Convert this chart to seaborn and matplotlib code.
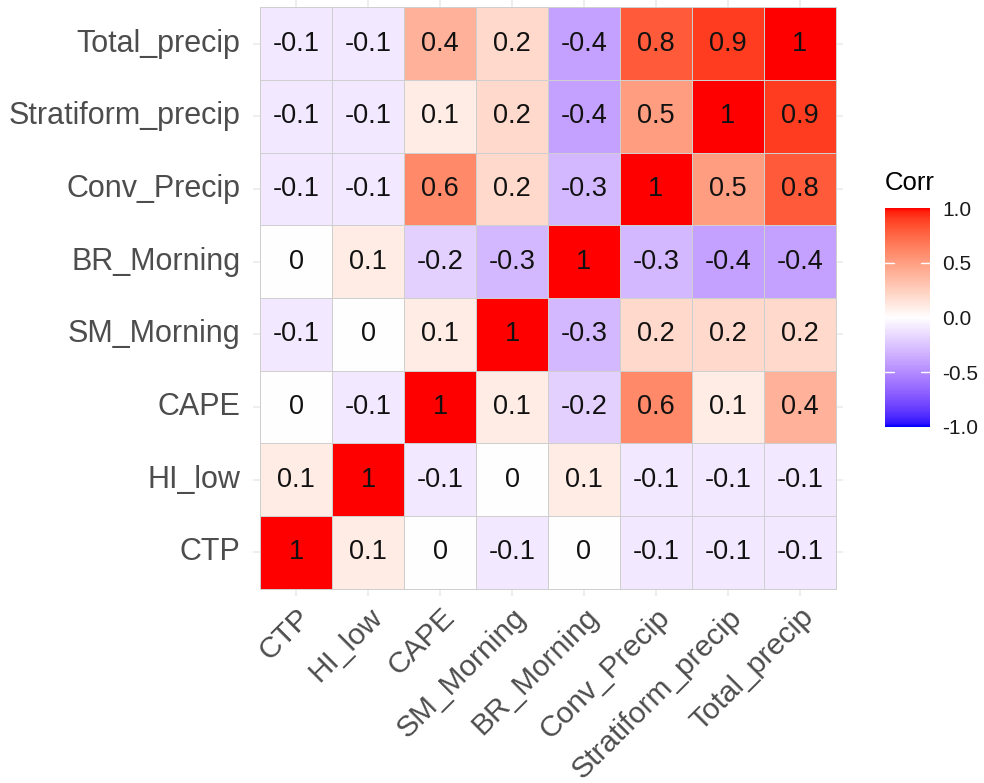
import numpy as np
import pandas as pd
import seaborn as sns
import matplotlib.pyplot as plt
from matplotlib.colors import ListedColormap

sns.set_theme(style='white')
plt.rcParams['font.family'] = ['Liberation Sans', 'DejaVu Sans']

# variables in plotting order (x left->right, y bottom->top)
variables = ['CTP', 'HI_low', 'CAPE', 'SM_Morning', 'BR_Morning',
             'Conv_Precip', 'Stratiform_precip', 'Total_precip']

# rounded correlation matrix, rows/cols in the order above
corr_ctp = [1, 0.1, 0, -0.1, 0, -0.1, -0.1, -0.1]
corr_hi_low = [0.1, 1, -0.1, 0, 0.1, -0.1, -0.1, -0.1]
corr_cape = [0, -0.1, 1, 0.1, -0.2, 0.6, 0.1, 0.4]
corr_sm = [-0.1, 0, 0.1, 1, -0.3, 0.2, 0.2, 0.2]
corr_br = [0, 0.1, -0.2, -0.3, 1, -0.3, -0.4, -0.4]
corr_conv = [-0.1, -0.1, 0.6, 0.2, -0.3, 1, 0.5, 0.8]
corr_strat = [-0.1, -0.1, 0.1, 0.2, -0.4, 0.5, 1, 0.9]
corr_total = [-0.1, -0.1, 0.4, 0.2, -0.4, 0.8, 0.9, 1]

corr = pd.DataFrame([corr_ctp, corr_hi_low, corr_cape, corr_sm, corr_br,
                     corr_conv, corr_strat, corr_total],
                    index=variables, columns=variables)


# ggplot-like gradient2 (blue - white - red), interpolated in Lab space
def srgb_to_lab(rgb):
    c = np.asarray(rgb, dtype=float)
    lin = np.where(c <= 0.04045, c / 12.92, ((c + 0.055) / 1.055) ** 2.4)
    m = np.array([[0.4124, 0.3576, 0.1805],
                  [0.2126, 0.7152, 0.0722],
                  [0.0193, 0.1192, 0.9505]])
    xyz = m @ lin / np.array([0.95047, 1.0, 1.08883])
    f = np.where(xyz > 0.008856, np.cbrt(xyz), 7.787 * xyz + 16 / 116)
    return np.array([116 * f[1] - 16, 500 * (f[0] - f[1]), 200 * (f[1] - f[2])])


def lab_to_srgb(lab):
    L, a, b = lab
    fy = (L + 16) / 116
    fx = fy + a / 500
    fz = fy - b / 200
    f = np.array([fx, fy, fz])
    xyz = np.where(f ** 3 > 0.008856, f ** 3, (f - 16 / 116) / 7.787)
    xyz = xyz * np.array([0.95047, 1.0, 1.08883])
    minv = np.array([[3.2406, -1.5372, -0.4986],
                     [-0.9689, 1.8758, 0.0415],
                     [0.0557, -0.2040, 1.0570]])
    lin = np.clip(minv @ xyz, 0, 1)
    c = np.where(lin <= 0.0031308, 12.92 * lin, 1.055 * lin ** (1 / 2.4) - 0.055)
    return np.clip(c, 0, 1)


blue_lab = srgb_to_lab([0, 0, 1])
white_lab = srgb_to_lab([1, 1, 1])
red_lab = srgb_to_lab([1, 0, 0])
colors = []
for v in np.linspace(-1, 1, 256):
    if v < 0:
        lab = white_lab + (blue_lab - white_lab) * (-v)
    else:
        lab = white_lab + (red_lab - white_lab) * v
    colors.append(lab_to_srgb(lab))
cmap = ListedColormap(colors)

# top row first for the heatmap
plot_df = corr.iloc[::-1]
labels = plot_df.map(lambda v: '{:g}'.format(v))

fig = plt.figure(figsize=(9.84, 7.83), dpi=100)
ax = fig.add_axes([253 / 984, 1 - 596 / 783, 590 / 984, 596 / 783])
cax = fig.add_axes([885 / 984, 1 - 427 / 783, 45 / 984, 219 / 783])

sns.heatmap(plot_df, ax=ax, cbar_ax=cax, cmap=cmap, vmin=-1, vmax=1,
            annot=labels, fmt='', annot_kws={'size': 19.5, 'color': '#111111'},
            linewidths=0.7, linecolor='#cfcfcf', square=False)

ax.set_xlim(-0.1, 8.1)
ax.set_ylim(8.1, -0.1)
ax.set_axisbelow(True)
ax.grid(True, color='#ebebeb', linewidth=1.2)
for s in ax.spines.values():
    s.set_visible(False)
ax.set_xlabel('')
ax.set_ylabel('')
ax.tick_params(axis='both', length=0, colors='#4d4d4d')
ax.tick_params(axis='y', pad=9)
ax.tick_params(axis='x', pad=5)
ax.set_yticklabels(plot_df.index, rotation=0, fontsize=22, color='#4d4d4d')
ax.set_xticklabels(plot_df.columns, rotation=45, ha='right', va='top',
                   rotation_mode='anchor', fontsize=21.5, color='#4d4d4d')

# colorbar styling
cbar = ax.collections[0].colorbar
cbar.outline.set_visible(False)
cbar.set_ticks([-1, -0.5, 0, 0.5, 1])
cbar.set_ticklabels(['-1.0', '-0.5', '0.0', '0.5', '1.0'])
cax.tick_params(length=0, labelsize=15, colors='#1a1a1a', pad=9)
for t in [-0.5, 0, 0.5]:
    cax.plot([0, 0.2], [t, t], color='white', lw=1)
    cax.plot([0.8, 1], [t, t], color='white', lw=1)
cax.set_xlim(0, 1)
cax.text(0.0, 1.06, 'Corr', transform=cax.transAxes, fontsize=18.5,
         color='black', ha='left', va='bottom')

fig.savefig('out.png', dpi=100, facecolor='white')
